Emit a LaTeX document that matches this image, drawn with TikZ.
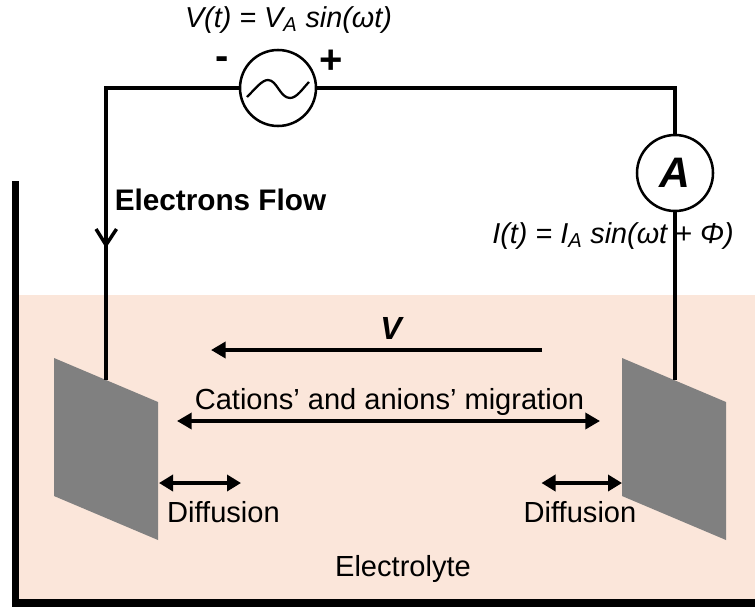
\documentclass[tikz,border=0pt]{standalone}
\usepackage{fontspec}
\setmainfont{Liberation Sans}
\usetikzlibrary{arrows.meta}
\definecolor{electrolyte}{HTML}{FBE6DA}
\definecolor{electrode}{HTML}{808080}
\tikzset{
	lbl/.style={inner sep=0,outer sep=0,font=\fontsize{21.8}{26}\selectfont},
	eqn/.style={lbl,font=\fontsize{21.6}{25}\selectfont\itshape},
	meter/.style={draw,circle,fill=white,line width=1.9pt,inner sep=0,outer sep=0,minimum size=57pt},
	wire/.style={line width=3pt},
	wall/.style={line width=5.6pt},
	bigarrow/.style={line width=3.6pt,-{Triangle[length=11pt,width=12pt]}},
	midarrow/.style={line width=2.6pt,{Triangle[length=11pt,width=12pt]}-{Triangle[length=11pt,width=12pt]}},
	smallarrow/.style={line width=2.6pt,{Triangle[length=10.5pt,width=12pt]}-{Triangle[length=10.5pt,width=12pt]}},
}
\begin{document}
\begin{tikzpicture}[x=0.75pt,y=-0.75pt]
	\useasboundingbox (0,0) rectangle (755,607);
	\fill[electrolyte] (16,295) rectangle (755,603);
	\coordinate (walltop) at (15.7,181);
	\coordinate (wallcorner) at (15.7,603);
	\coordinate (wallend) at (755,603);
	\draw[wall] (walltop) -- (wallcorner) -- (wallend);
	% electrodes
	\coordinate (leftplate) at (106,380);
	\coordinate (rightplate) at (675,380);
	\fill[electrode] (54,358) -- (158,402) -- (158,540) -- (54,496) -- cycle;
	\fill[electrode] (622,358) -- (726,402) -- (726,540) -- (622,496) -- cycle;
	% circuit
	\node[meter] (source) at (278,88) {};
	\node[meter] (ammeter) at (675,173) {\fontsize{32}{36}\selectfont\bfseries\itshape A};
	\coordinate (topleft) at (106,88);
	\coordinate (topright) at (675,88);
	\draw[wire] (source) -- (topleft) -- (leftplate);
	\draw[wire] (source) -- (topright) -- (ammeter);
	\draw[wire] (ammeter) -- (rightplate);
	\draw[line width=1.7pt] (247,97) .. controls (256,88) and (262,80) .. (268,80) .. controls (277,80) and (280,98) .. (290,98) .. controls (297,98) and (303,88) .. (309,82);
	\coordinate (flowa) at (96,229);
	\coordinate (flowb) at (106,245);
	\coordinate (flowc) at (116.5,229);
	\draw[wire,line width=2.6pt] (flowa) -- (flowb) -- (flowc);
	% arrows
	\coordinate (fieldstart) at (542,350);
	\coordinate (fieldend) at (211,350);
	\coordinate (migleft) at (177,421);
	\coordinate (migright) at (600,421);
	\coordinate (diffa) at (159,483);
	\coordinate (diffb) at (241,483);
	\coordinate (diffc) at (541.5,483);
	\coordinate (diffd) at (622,483);
	\draw[bigarrow] (fieldstart) -- (fieldend);
	\draw[midarrow] (migleft) -- (migright);
	\draw[smallarrow] (diffa) -- (diffb);
	\draw[smallarrow] (diffc) -- (diffd);
	% labels
	\node[eqn] (veq) at (288.5,20) {V(t) = V\textsubscript{A} sin(ωt)};
	\node[eqn] (ieq) at (613,236) {I(t) = I\textsubscript{A} sin(ωt + Φ)};
	\node[lbl,font=\fontsize{30}{34}\selectfont\bfseries] (minus) at (222.5,63) {-};
	\node[lbl,font=\fontsize{30}{34}\selectfont\bfseries] (plus) at (331.5,62) {+};
	\node[lbl,font=\fontsize{22.3}{26}\selectfont\bfseries] (flow) at (220.5,200) {Electrons Flow};
	\node[lbl,font=\fontsize{24}{28}\selectfont\bfseries\itshape] (field) at (391,328) {V};
	\node[lbl] (migration) at (389.5,402) {Cations’ and anions’ migration};
	\node[lbl] (diffleft) at (223.5,512) {Diffusion};
	\node[lbl] (diffright) at (580,512) {Diffusion};
	\node[lbl] (bath) at (403,569) {Electrolyte};
\end{tikzpicture}
\end{document}
